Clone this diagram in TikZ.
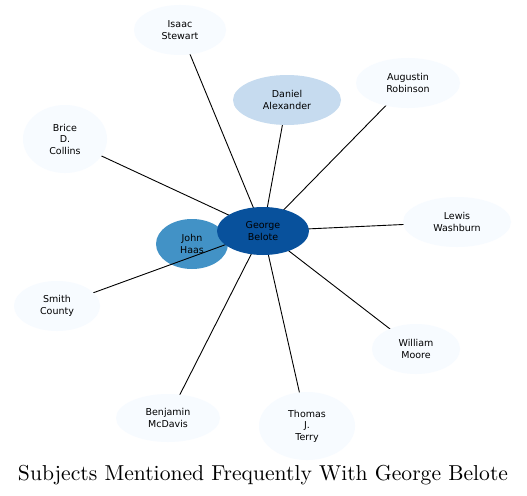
\documentclass[tikz,border=0pt]{standalone}
\usepackage{fontspec}
\newfontfamily\nodefont{DejaVu Sans}
\newfontfamily\titlefont{lmroman10-regular.otf}
\usetikzlibrary{shapes.geometric}
\definecolor{cdark}{HTML}{08519C}
\definecolor{cmid}{HTML}{4292C6}
\definecolor{clight}{HTML}{C6DBEF}
\definecolor{cpale}{HTML}{F7FBFF}
\tikzset{
  ent/.style={ellipse, draw=none, inner sep=0pt, align=center,
    font=\nodefont\fontsize{9.5}{11.5}\selectfont, text=black},
  link/.style={draw=black, line width=0.9pt},
}
\begin{document}
\begin{tikzpicture}[x=1pt,y=-1pt]
\useasboundingbox (0,0) rectangle (527,495);
\fill[white] (0,0) rectangle (527,495);
% John Haas drawn below the edges
\node[ent, fill=cmid, minimum width=72pt, minimum height=50pt] (john) at (192,244) {John\\Haas};
\coordinate (gc) at (263,231);
% edges (centre to centre, covered by the nodes drawn afterwards)
\coordinate (isc) at (180,30);
\coordinate (dac) at (287,100);
\coordinate (auc) at (408,83);
\coordinate (brc) at (65,139);
\coordinate (lwc) at (457,222);
\coordinate (smc) at (57,306);
\coordinate (wmc) at (416,349);
\coordinate (bmc) at (168,418);
\coordinate (tjc) at (307,426);
\foreach \c in {isc,dac,auc,brc,lwc,wmc,bmc,tjc}{\draw[link] (gc) -- (\c);}
% Smith County edge ends at George's boundary, over John Haas
\draw[link] (gc) -- (smc);
\node[ent, fill=cpale, minimum width=92pt, minimum height=50pt] (isaac) at (isc) {Isaac\\Stewart};
\node[ent, fill=clight, minimum width=108pt, minimum height=50pt] (daniel) at (dac) {Daniel\\Alexander};
\node[ent, fill=cpale, minimum width=104pt, minimum height=50pt] (augustin) at (auc) {Augustin\\Robinson};
\node[ent, fill=cpale, minimum width=84pt, minimum height=68pt] (brice) at (brc) {Brice\\D.\\Collins};
\node[ent, fill=cpale, minimum width=108pt, minimum height=50pt] (lewis) at (lwc) {Lewis\\Washburn};
\node[ent, fill=cpale, minimum width=86pt, minimum height=50pt] (smith) at (smc) {Smith\\County};
\node[ent, fill=cpale, minimum width=88pt, minimum height=50pt] (william) at (wmc) {William\\Moore};
\node[ent, fill=cpale, minimum width=104pt, minimum height=48pt] (benjamin) at (bmc) {Benjamin\\McDavis};
\node[ent, fill=cpale, minimum width=96pt, minimum height=68pt] (thomas) at (tjc) {Thomas\\J.\\Terry};
\node[ent, fill=cdark, minimum width=92pt, minimum height=48pt] (george) at (gc) {George\\Belote};
\node[font=\titlefont\fontsize{21.6}{25}\selectfont, inner sep=0pt, anchor=base] (title) at (263,480) {Subjects Mentioned Frequently With George Belote};
\end{tikzpicture}
\end{document}
